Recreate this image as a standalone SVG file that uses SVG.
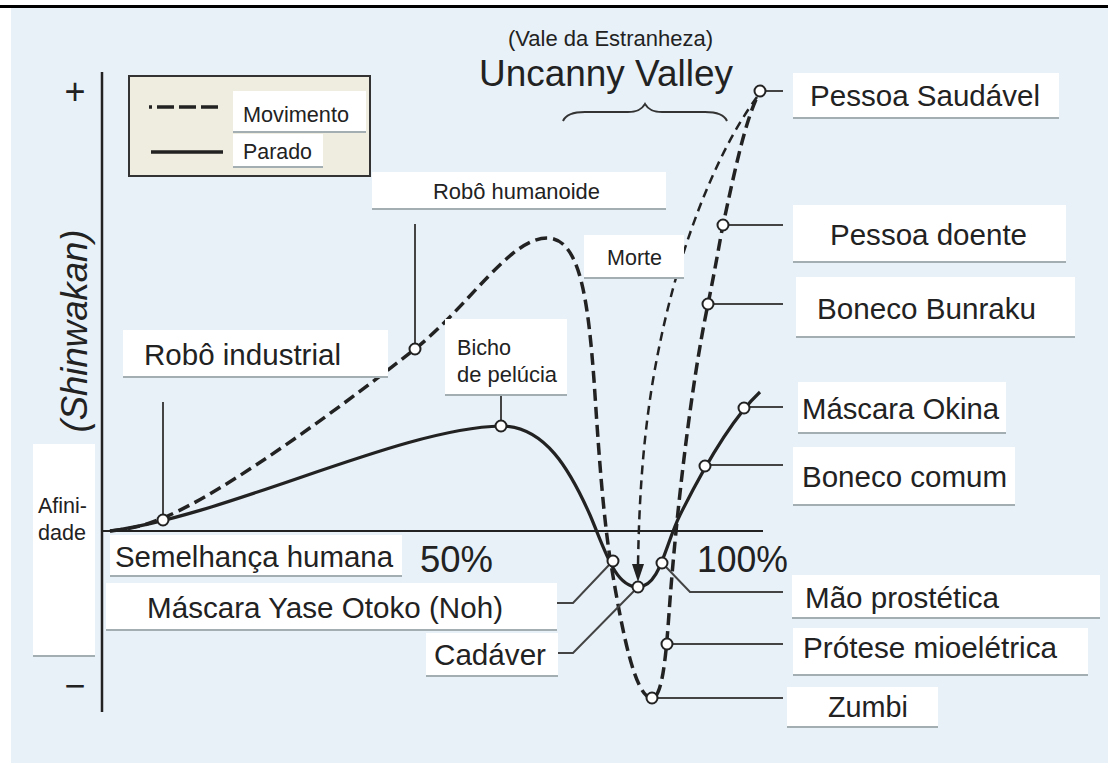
<svg xmlns="http://www.w3.org/2000/svg" width="1108" height="763" viewBox="0 0 1108 763">
<style>
text{font-family:"Liberation Sans",Arial,sans-serif;fill:#222}
.sm{font-size:22px}
.lg{font-size:29px}
.box{fill:#ffffff}
.sh{stroke:#a3aeb3;stroke-width:2}
.lead{fill:none;stroke:#444;stroke-width:2}
.pt{fill:#fff;stroke:#222;stroke-width:2}
.mov{fill:none;stroke:#222;stroke-width:3.5;stroke-dasharray:12 6}
.mort{fill:none;stroke:#222;stroke-width:2.5;stroke-dasharray:9 6}
.par{fill:none;stroke:#222;stroke-width:3.2}
</style>
<rect x="0" y="0" width="1108" height="763" fill="#ffffff"/>
<rect x="11" y="8" width="1097" height="755" fill="#e8f1f8"/>
<line x1="0" y1="6.5" x2="1108" y2="6.5" stroke="#000" stroke-width="3"/>

<g id="axes">
<line x1="102" y1="72" x2="102" y2="712" stroke="#222" stroke-width="2.5"/>
<line x1="102" y1="531" x2="763" y2="531" stroke="#222" stroke-width="2.2"/>
<text x="75" y="104" text-anchor="middle" style="font-size:36px">+</text>
<text x="75" y="698" text-anchor="middle" style="font-size:36px">−</text>
<text transform="translate(87,331) rotate(-90)" text-anchor="middle" style="font-size:36px;font-style:italic" textLength="203" lengthAdjust="spacingAndGlyphs">(Shinwakan)</text>
<text x="420" y="572" style="font-size:36px" textLength="73" lengthAdjust="spacingAndGlyphs">50%</text>
<text x="697" y="572" style="font-size:36px" textLength="91" lengthAdjust="spacingAndGlyphs">100%</text>
</g>

<g id="title">
<text x="508" y="46" class="sm" textLength="205" lengthAdjust="spacingAndGlyphs">(Vale da Estranheza)</text>
<text x="479" y="86" style="font-size:36px" textLength="254" lengthAdjust="spacingAndGlyphs">Uncanny Valley</text>
<path d="M563,121 C566,114 574,112 585,112 L628,112 C638,112 642,109 645,104 C648,109 652,112 662,112 L705,112 C716,112 724,114 727,121" fill="none" stroke="#333" stroke-width="2"/>
</g>

<g id="legend">
<rect x="129" y="76" width="241" height="100" fill="#efece0" stroke="#333" stroke-width="2"/>
<line x1="149" y1="107" x2="152" y2="107" stroke="#222" stroke-width="3.5"/>
<line x1="157" y1="107" x2="223" y2="107" stroke="#222" stroke-width="3.5" stroke-dasharray="17 5"/>
<line x1="151" y1="152" x2="223" y2="152" stroke="#222" stroke-width="3.5"/>
<rect class="box" x="233" y="91" width="133" height="41"/><line class="sh" x1="233" y1="132" x2="366" y2="132"/>
<text x="243" y="122" class="sm" textLength="106" lengthAdjust="spacingAndGlyphs">Movimento</text>
<rect class="box" x="233" y="134" width="90" height="33"/><line class="sh" x1="233" y1="167" x2="323" y2="167"/>
<text x="243" y="159" class="sm" textLength="69" lengthAdjust="spacingAndGlyphs">Parado</text>
</g>

<g id="connectors">
<path class="par" d="M110,531 C230,515 400,428 501,426 C545,426 570,470 590,515 C605,550 615,587 638,587 C660,587 665,545 680,515 C700,475 730,420 760,392"/>
<path class="mov" d="M110,531 C140,528 150,523 163,518 C230,490 350,400 415,349 C470,305 510,238 547,238 C580,238 588,300 594,380 C598,440 603,520 612,570 C622,630 635,698 652,698 C664,698 667,640 670,600 C676,520 690,390 708,304 C715,270 720,240 723,225 C735,170 745,120 760,91"/>
<path class="mort" d="M757,97 C718,150 675,250 653,380 C643,440 639,500 638,566"/>
<polygon points="632,564 644,564 638,582" fill="#222"/>
<line class="lead" x1="163" y1="402" x2="163" y2="515"/>
<line class="lead" x1="415" y1="224" x2="415" y2="344"/>
<line class="lead" x1="501" y1="395" x2="501" y2="421"/>
<line class="lead" x1="766" y1="91" x2="783" y2="91"/>
<line class="lead" x1="728" y1="225" x2="783" y2="225"/>
<line class="lead" x1="713" y1="304" x2="783" y2="304"/>
<line class="lead" x1="749" y1="407" x2="783" y2="407"/>
<line class="lead" x1="710" y1="465" x2="783" y2="465"/>
<polyline class="lead" points="666,567 690,592 783,592"/>
<line class="lead" x1="672" y1="644" x2="783" y2="644"/>
<line class="lead" x1="657" y1="698" x2="783" y2="698"/>
<polyline class="lead" points="557,603 573,603 609,565"/>
<polyline class="lead" points="558,653 573,653 634,591"/>
</g>

<g id="points">
<circle class="pt" cx="163" cy="520" r="5.5"/>
<circle class="pt" cx="415" cy="349" r="5.5"/>
<circle class="pt" cx="501" cy="426" r="5.5"/>
<circle class="pt" cx="760" cy="91" r="5.5"/>
<circle class="pt" cx="723" cy="225" r="5.5"/>
<circle class="pt" cx="708" cy="304" r="5.5"/>
<circle class="pt" cx="744" cy="408" r="5.5"/>
<circle class="pt" cx="705" cy="466" r="5.5"/>
<circle class="pt" cx="613" cy="561" r="5.5"/>
<circle class="pt" cx="638" cy="587" r="5.5"/>
<circle class="pt" cx="662" cy="563" r="5.5"/>
<circle class="pt" cx="667" cy="644" r="5.5"/>
<circle class="pt" cx="652" cy="698" r="5.5"/>
</g>

<g id="afinidade">
<rect class="box" x="33" y="444" width="62" height="212"/><line class="sh" x1="33" y1="656" x2="95" y2="656"/>
<text x="38" y="513" class="sm" textLength="49" lengthAdjust="spacingAndGlyphs">Afini-</text>
<text x="38" y="540" class="sm" textLength="48" lengthAdjust="spacingAndGlyphs">dade</text>
</g>
<g id="robo-industrial">
<rect class="box" x="123" y="330" width="265" height="47"/><line class="sh" x1="123" y1="377" x2="388" y2="377"/>
<text x="144" y="365" class="lg" textLength="197" lengthAdjust="spacingAndGlyphs">Robô industrial</text>
</g>
<g id="robo-humanoide">
<rect class="box" x="372" y="172" width="294" height="37"/><line class="sh" x1="372" y1="209" x2="666" y2="209"/>
<text x="433" y="199" class="sm" textLength="167" lengthAdjust="spacingAndGlyphs">Robô humanoide</text>
</g>
<g id="bicho">
<rect class="box" x="445" y="319" width="122" height="76"/><line class="sh" x1="445" y1="395" x2="567" y2="395"/>
<text x="457" y="355" class="sm" textLength="54" lengthAdjust="spacingAndGlyphs">Bicho</text>
<text x="457" y="382" class="sm" textLength="100" lengthAdjust="spacingAndGlyphs">de pelúcia</text>
</g>
<g id="morte">
<rect class="box" x="584" y="235" width="100" height="43"/><line class="sh" x1="584" y1="278" x2="684" y2="278"/>
<text x="607" y="265" class="sm" textLength="55" lengthAdjust="spacingAndGlyphs">Morte</text>
</g>
<g id="semelhanca">
<rect class="box" x="110" y="535" width="292" height="41"/><line class="sh" x1="110" y1="576" x2="402" y2="576"/>
<text x="115" y="567" class="lg" textLength="278" lengthAdjust="spacingAndGlyphs">Semelhança humana</text>
</g>
<g id="yase-otoko">
<rect class="box" x="106" y="583" width="451" height="47"/><line class="sh" x1="106" y1="630" x2="557" y2="630"/>
<text x="147" y="618" class="lg" textLength="356" lengthAdjust="spacingAndGlyphs">Máscara Yase Otoko (Noh)</text>
</g>
<g id="cadaver">
<rect class="box" x="426" y="633" width="132" height="43"/><line class="sh" x1="426" y1="676" x2="558" y2="676"/>
<text x="434" y="665" class="lg" textLength="112" lengthAdjust="spacingAndGlyphs">Cadáver</text>
</g>
<g id="pessoa-saudavel">
<rect class="box" x="793" y="73" width="266" height="45"/><line class="sh" x1="793" y1="118" x2="1059" y2="118"/>
<text x="810" y="106" class="lg" textLength="230" lengthAdjust="spacingAndGlyphs">Pessoa Saudável</text>
</g>
<g id="pessoa-doente">
<rect class="box" x="793" y="205" width="273" height="57"/><line class="sh" x1="793" y1="262" x2="1066" y2="262"/>
<text x="830" y="245" class="lg" textLength="197" lengthAdjust="spacingAndGlyphs">Pessoa doente</text>
</g>
<g id="boneco-bunraku">
<rect class="box" x="796" y="277" width="279" height="60"/><line class="sh" x1="796" y1="337" x2="1075" y2="337"/>
<text x="817" y="319" class="lg" textLength="219" lengthAdjust="spacingAndGlyphs">Boneco Bunraku</text>
</g>
<g id="mascara-okina">
<rect class="box" x="798" y="382" width="208" height="51"/><line class="sh" x1="798" y1="433" x2="1006" y2="433"/>
<text x="802" y="419" class="lg" textLength="197" lengthAdjust="spacingAndGlyphs">Máscara Okina</text>
</g>
<g id="boneco-comum">
<rect class="box" x="793" y="447" width="222" height="58"/><line class="sh" x1="793" y1="505" x2="1015" y2="505"/>
<text x="802" y="487" class="lg" textLength="205" lengthAdjust="spacingAndGlyphs">Boneco comum</text>
</g>
<g id="mao-prostetica">
<rect class="box" x="792" y="575" width="308" height="43"/><line class="sh" x1="792" y1="618" x2="1100" y2="618"/>
<text x="805" y="608" class="lg" textLength="194" lengthAdjust="spacingAndGlyphs">Mão prostética</text>
</g>
<g id="protese">
<rect class="box" x="793" y="628" width="295" height="47"/><line class="sh" x1="793" y1="675" x2="1088" y2="675"/>
<text x="803" y="658" class="lg" textLength="254" lengthAdjust="spacingAndGlyphs">Prótese mioelétrica</text>
</g>
<g id="zumbi">
<rect class="box" x="787" y="687" width="151" height="40"/><line class="sh" x1="787" y1="727" x2="938" y2="727"/>
<text x="828" y="717" class="lg" textLength="80" lengthAdjust="spacingAndGlyphs">Zumbi</text>
</g>
</svg>
